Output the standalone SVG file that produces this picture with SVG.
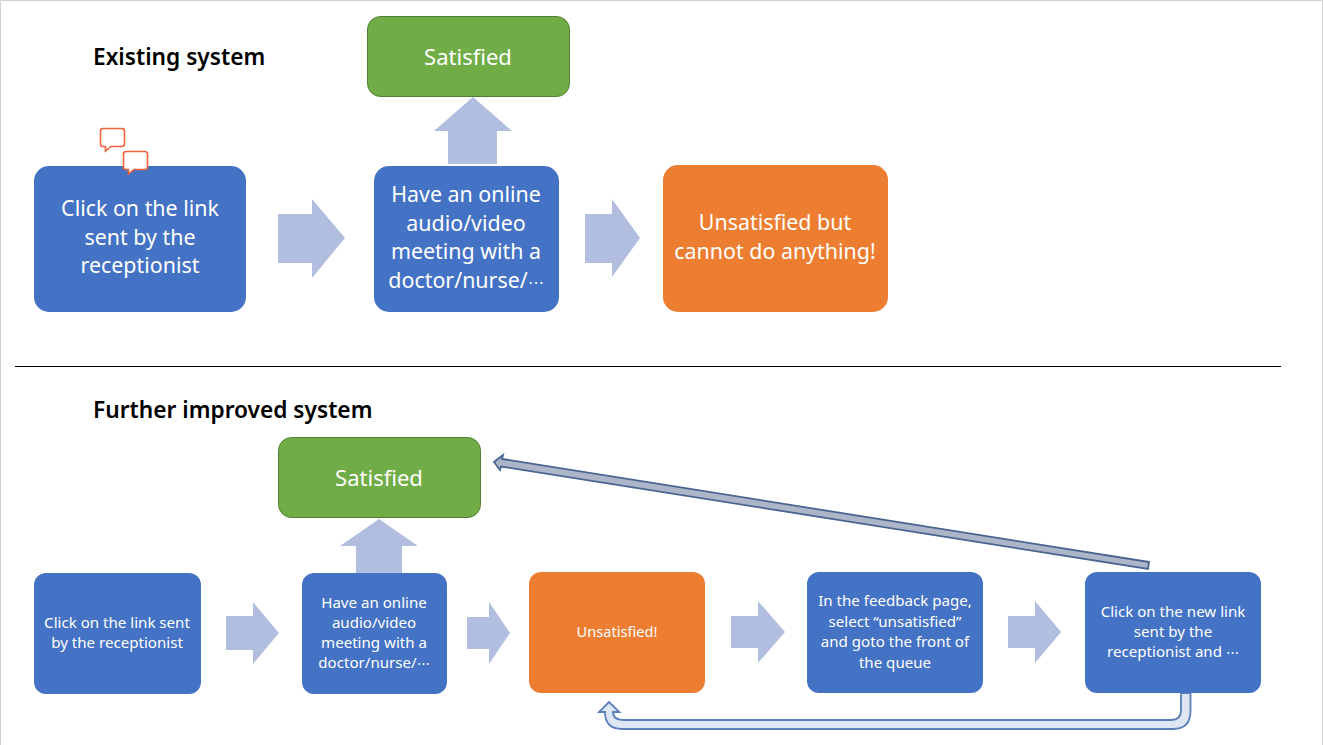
<svg xmlns="http://www.w3.org/2000/svg" width="1323" height="745" viewBox="0 0 1323 745">
<style>
text{font-family:"Noto Sans","Open Sans","Liberation Sans",sans-serif;text-anchor:middle;fill:#fff}
.h{font-size:22.7px;font-weight:600;fill:#000;text-anchor:start}
.l{font-size:21.4px}
.t{font-size:22px}
.s{font-size:15.1px}
.e{font-size:13px}
.b{fill:#4472c4}
.o{fill:#ed7d31}
.g{fill:#70ad47;stroke:#507e32;stroke-width:1}
.a{fill:#b2bee0}
.c{fill:#fff;stroke:#f0623a;stroke-width:1.6}
</style>
<rect width="1323" height="745" fill="#fff"/>
<path d="M0.5 745V0.5H1322.5V745" fill="none" stroke="#d0d0d0"/>
<line x1="15" y1="366.5" x2="1281" y2="366.5" stroke="#000" stroke-width="1"/>
<text class="h" x="93" y="65">Existing system</text>
<text class="h" x="93" y="418">Further improved system</text>
<g id="connectors">
<path class="a" d="M278 214H312V199L345 238L312 278V263H278Z"/>
<path class="a" d="M585 214H612V199L640 238L612 277V263H585Z"/>
<path class="a" d="M448 164V131H434L473 97L512 131H497V164Z"/>
<path class="a" d="M226 616H253V602L279 633L253 664V650H226Z"/>
<path class="a" d="M467 617H489V602L510 633L489 664V649H467Z"/>
<path class="a" d="M731 616H758V601L785 632L758 663V648H731Z"/>
<path class="a" d="M1008 616H1035V601L1061 632L1035 663V648H1008Z"/>
<path class="a" d="M356 573V546H340L379 519L418 546H402V573Z"/>
<path d="M1149 562L502 459L503 455L494 462L500 470L501 466.500L1148 569Z" fill="#adb5c9" stroke="#4a6491" stroke-width="1.800"/>
<path d="M1181 693V710Q1181 720 1171 720H624Q613 720 613 712H619.500L609 702L599 712H605Q605 729 622 729H1173Q1190.500 729 1190.500 711V693Z" fill="#dfe6f3" stroke="#5b7fb8" stroke-width="1.800"/>
</g>
<g id="n1"><rect class="b" x="34" y="166" width="212" height="146" rx="15"/><text class="l" x="140" y="216">Click on the link</text><text class="l" x="140" y="245">sent by the</text><text class="l" x="140" y="273">receptionist</text></g>
<g id="comment-1"><path class="c" d="M103 128.500H122Q124.500 128.500 124.500 131V144Q124.500 146.500 122 146.500H111L105.500 151V146.500H103Q100.500 146.500 100.500 144V131Q100.500 128.500 103 128.500Z"/></g>
<g id="comment-2"><path class="c" d="M126 151.500H145Q147.500 151.500 147.500 154V167Q147.500 169.500 145 169.500H134L128.500 174V169.500H126Q123.500 169.500 123.500 167V154Q123.500 151.500 126 151.500Z"/></g>
<g id="n2"><rect class="g" x="367.500" y="16.500" width="202" height="80" rx="13"/><text class="t" x="468" y="65">Satisfied</text></g>
<g id="n3"><rect class="b" x="374" y="166" width="185" height="146" rx="15"/><text class="l" x="466" y="202">Have an online</text><text class="l" x="466" y="231">audio/video</text><text class="l" x="466" y="259">meeting with a</text><text class="l" x="466" y="288">doctor/nurse/<tspan font-size="16px">⋯</tspan></text></g>
<g id="n4"><rect class="o" x="663" y="165" width="225" height="147" rx="15"/><text class="l" x="775" y="230">Unsatisfied but</text><text class="l" x="775" y="259">cannot do anything!</text></g>
<g id="n5"><rect class="g" x="278.500" y="437.500" width="202" height="80" rx="13"/><text class="t" x="379" y="486">Satisfied</text></g>
<g id="n6"><rect class="b" x="34" y="573" width="167" height="121" rx="12"/><text class="s" x="117" y="628">Click on the link sent</text><text class="s" x="117" y="648">by the receptionist</text></g>
<g id="n7"><rect class="b" x="302" y="573" width="145" height="121" rx="12"/><text class="s" x="374" y="608">Have an online</text><text class="s" x="374" y="628">audio/video</text><text class="s" x="374" y="648">meeting with a</text><text class="s" x="374" y="668">doctor/nurse/<tspan class="e">⋯</tspan></text></g>
<g id="n8"><rect class="o" x="529" y="572" width="176" height="121" rx="12"/><text x="617" y="637" font-size="14.6px">Unsatisfied!</text></g>
<g id="n9"><rect class="b" x="807" y="572" width="176" height="121" rx="12"/><text class="s" x="895" y="606">In the feedback page,</text><text class="s" x="895" y="627">select “unsatisfied”</text><text class="s" x="895" y="647">and goto the front of</text><text class="s" x="895" y="668">the queue</text></g>
<g id="n10"><rect class="b" x="1085" y="572" width="176" height="121" rx="12"/><text class="s" x="1173" y="617">Click on the new link</text><text class="s" x="1173" y="637">sent by the</text><text class="s" x="1173" y="657">receptionist and <tspan class="e">⋯</tspan></text></g>
</svg>
